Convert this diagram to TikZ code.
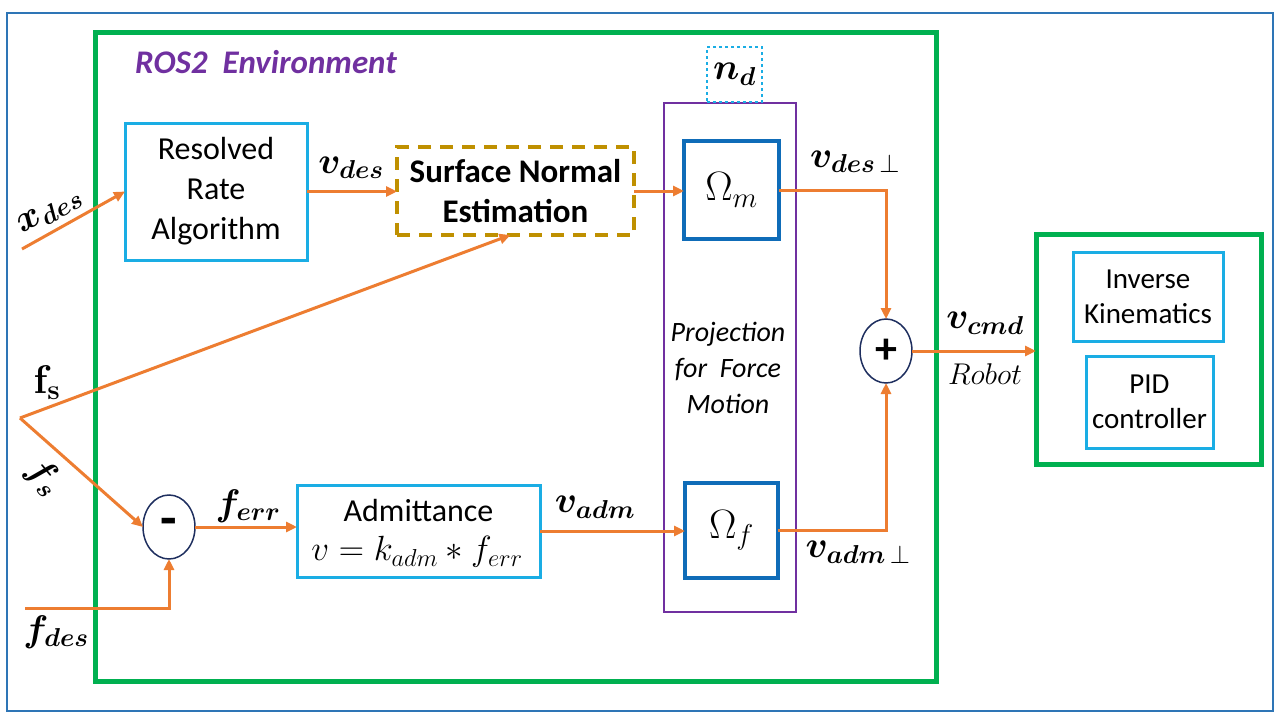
\RequirePackage{fix-cm}
\documentclass[tikz,border=0pt]{standalone}
\usepackage[no-math]{fontspec}
\setmainfont{Carlito}
\usepackage{bm}
\usetikzlibrary{arrows.meta,shapes.geometric,calc}
\definecolor{orng}{HTML}{ED7D31}
\definecolor{grn}{HTML}{00B050}
\definecolor{cyanb}{HTML}{1AADE4}
\definecolor{dblue}{HTML}{0F6CB8}
\definecolor{purp}{HTML}{7030A0}
\definecolor{gold}{HTML}{BF9000}
\definecolor{outerb}{HTML}{2E75B6}
\definecolor{navy}{HTML}{1F2F5F}
\newcommand{\fsz}[2]{\fontsize{#1}{#2}\selectfont}
\begin{document}
\begin{tikzpicture}[x=1pt,y=-1pt,
  every node/.style={inner sep=0pt,outer sep=0pt},
  cbox/.style={draw=cyanb,line width=3pt,align=center,font=\fsz{32}{40}},
  obox/.style={draw=dblue,line width=3.5pt,font=\fsz{41}{44}},
  sumnode/.style={draw=navy,line width=1.5pt,ellipse,minimum width=52pt,minimum height=64pt,font=\bfseries},
  conn/.style={draw=orng,line width=3pt,-{Triangle[length=11pt,width=10pt]}},
  lbl/.style={font=\fsz{37}{40}},
  envline/.style={draw=grn,line width=5pt}
]
\useasboundingbox (0,0) rectangle (1280,720);
% outer frame and environment
\draw[draw=outerb,line width=1.5pt] (7,13) rectangle (1273,711);
\draw[envline] (95,32) rectangle (936,681);
\node[font=\fsz{33}{38}\bfseries\itshape,text=purp] (ros) at (266,62) {ROS2~~Environment};

% blocks
\node[cbox,minimum width=182pt,minimum height=137pt] (rra) at (216,191.5) {Resolved\\Rate\\Algorithm};
\node[draw=gold,line width=3.5pt,dash pattern=on 13pt off 9pt,minimum width=237pt,minimum height=88pt,align=center,font=\fsz{33}{40}\bfseries] (sne) at (515.5,191) {Surface Normal\\Estimation};
\node[draw=purp,line width=2.5pt,minimum width=132pt,minimum height=509pt] (proj) at (730,357.5) {};
\node[align=center,font=\fsz{28}{36}\itshape] (projtxt) at (728,368) {Projection\\for~~Force\\Motion};
\node[draw=cyanb,line width=1.5pt,dashed,minimum width=55pt,minimum height=55pt,font=\fsz{37}{40}] (nd) at (734.5,74.5) {$\bm{n_d}$};
\node[obox,minimum width=95pt,minimum height=98pt] (om) at (731.5,190) {$\Omega_m$};
\node[obox,minimum width=93pt,minimum height=95pt] (of) at (731.5,530.5) {$\Omega_f$};
\node[sumnode,font=\fsz{44}{44}\bfseries] (plus) at (886,351) {+};
\node[sumnode,font=\fsz{54}{54}\bfseries] (minus) at (169,527) {-};
\node[cbox,minimum width=243pt,minimum height=92pt] (adm) at (418.5,531) {};
\node[font=\fsz{32}{38}] (admtxt) at (418.5,511) {Admittance};
\node[font=\fsz{35}{38}] (admeq) at (417,552) {$v = k_{adm} * f_{err}$};
\node[envline,minimum width=225pt,minimum height=230pt] (rbox) at (1148.5,349) {};
\node[cbox,minimum width=150pt,minimum height=89pt,font=\fsz{29}{35}] (ik) at (1148,296.5) {Inverse\\Kinematics};
\node[cbox,minimum width=127pt,minimum height=92pt,font=\fsz{29}{35}] (pid) at (1149.5,402) {PID\\controller};

% free ends
\coordinate (xin) at (22,249);
\coordinate (br) at (20,418);
\coordinate (fdes) at (25,608);

% connectors
\draw[conn] (xin) -- (rra.west);
\draw[conn] (rra.east) -- (rra.east -| sne.west);
\draw[conn] (sne.east) -- (sne.east -| om.west);
\draw[conn] (om.east) -| (plus.north);
\draw[conn] (br) -- ($(sne.south)+(-5,0)$);
\draw[conn] (br) -- (minus.west);
\draw[conn] (fdes) -| (minus.south);
\draw[conn] (minus.east) -- (minus.east -| adm.west);
\draw[conn] (adm.east) -- (adm.east -| of.west);
\draw[conn] (of.east) -| (plus.south);
\draw[conn] (plus.east) -- (plus.east -| rbox.west);

% labels
\node[lbl,rotate=29] (lxdes) at (50,212) {$\bm{x_{des}}$};
\node[lbl] (lvdes) at (351,168) {$\bm{v_{des}}$};
\node[font=\fsz{40}{44}] (lfs1) at (47,383) {$\mathbf{f}_{\mathbf{s}}$};
\node[lbl,rotate=-50] (lfs2) at (44,477) {$\bm{f_s}$};
\node[lbl] (lfdes) at (56,632) {$\bm{f_{des}}$};
\node[lbl] (lferr) at (248,506) {$\bm{f_{err}}$};
\node[lbl] (lvadm) at (595,507) {$\bm{v_{adm}}$};
\node[lbl] (lvdesp) at (855,162) {$\bm{v}_{\bm{des}\,\perp}$};
\node[lbl] (lvadmp) at (858,552) {$\bm{v}_{\bm{adm}\,\perp}$};
\node[lbl] (lvcmd) at (985,323) {$\bm{v_{cmd}}$};
\node[font=\fsz{30}{32}] (lrobot) at (985,374) {$Robot$};
\end{tikzpicture}
\end{document}
